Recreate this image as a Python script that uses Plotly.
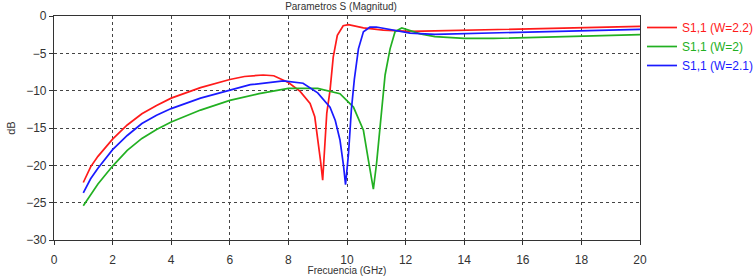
import plotly.graph_objects as go

# Frequency (GHz) / magnitude (dB)
red_f = [1.0, 1.25, 1.5, 2.0, 2.5, 3.0, 3.5, 4.0, 5.0, 6.0, 6.5, 7.14, 7.5, 8.0, 8.4, 8.74, 8.9, 9.0, 9.1, 9.17,
         9.25, 9.31, 9.42, 9.53, 9.67, 9.87, 10.05, 10.56, 11.24, 12.15, 13.0, 14.0, 15.0, 16.0, 17.0, 18.0, 19.0, 20.0]
red_db = [-22.3, -20.2, -18.8, -16.5, -14.6, -13.1, -12.0, -11.0, -9.6, -8.5, -8.1, -7.9, -8.0, -8.9, -10.1, -11.7, -13.5, -16.2, -19.5, -22.0,
          -17.0, -13.0, -10.0, -5.5, -2.6, -1.3, -1.15, -1.6, -1.9, -2.05, -2.0, -1.9, -1.8, -1.7, -1.6, -1.5, -1.45, -1.38]

green_f = [1.0, 1.25, 1.5, 1.75, 2.0, 2.5, 3.0, 3.5, 4.0, 5.0, 6.0, 7.0, 8.0, 9.0, 9.76, 10.22, 10.56, 10.73, 10.9,
           11.01, 11.13, 11.22, 11.3, 11.47, 11.64, 11.87, 12.09, 12.5, 13.0, 14.0, 15.0, 16.0, 17.0, 18.0, 19.0, 20.0]
green_db = [-25.4, -24.0, -22.5, -21.3, -20.1, -18.0, -16.4, -15.2, -14.2, -12.6, -11.3, -10.4, -9.7, -9.7, -10.4, -12.2, -15.3, -19.3, -23.2,
            -19.7, -14.8, -11.3, -7.9, -4.4, -2.1, -1.6, -1.9, -2.4, -2.75, -3.0, -3.0, -2.9, -2.8, -2.7, -2.6, -2.5]

blue_f = [1.0, 1.25, 1.5, 2.0, 2.5, 3.0, 3.5, 4.0, 5.0, 6.0, 6.7, 7.83, 8.5, 9.0, 9.42, 9.6, 9.76, 9.88, 9.95,
          10.05, 10.15, 10.25, 10.39, 10.56, 10.78, 11.0, 11.47, 12.15, 13.0, 14.0, 15.0, 16.0, 17.0, 18.0, 19.0, 20.0]
blue_db = [-23.7, -21.8, -20.4, -17.9, -16.0, -14.4, -13.3, -12.4, -11.0, -9.9, -9.2, -8.7, -9.0, -10.3, -12.2, -14.0, -16.6, -20.0, -22.6,
           -18.5, -12.5, -8.5, -4.4, -2.1, -1.5, -1.47, -1.8, -2.3, -2.45, -2.36, -2.25, -2.1, -2.05, -2.0, -1.9, -1.8]

series = [
    ("S1,1 (W=2.2)", red_f, red_db, "#ff1a1a"),
    ("S1,1 (W=2)", green_f, green_db, "#22b022"),
    ("S1,1 (W=2.1)", blue_f, blue_db, "#1a1aff"),
]

x_ticks = [0, 2, 4, 6, 8, 10, 12, 14, 16, 18, 20]
y_ticks = [0, -5, -10, -15, -20, -25, -30]

FONT = "Liberation Sans, Arial, sans-serif"

fig = go.Figure()
for name, f, db, col in series:
    fig.add_trace(go.Scatter(
        x=f, y=db, mode="lines",
        name=f'<span style="color:{col}">{name}</span>',
        line=dict(color=col, width=1.7),
    ))

axis_common = dict(
    showline=True, linecolor="#333333", linewidth=1.2, mirror=True,
    showgrid=True, gridcolor="#444444", griddash="dot", gridwidth=1,
    ticks="outside", ticklen=4, tickcolor="#333333",
    zeroline=False,
    tickfont=dict(family=FONT, size=12, color="#333333"),
)

fig.update_layout(
    width=754, height=276,
    margin=dict(l=54, r=114, t=16, b=36, autoexpand=False),
    paper_bgcolor="white", plot_bgcolor="white",
    title=dict(text="Parametros S (Magnitud)", x=341 / 754, xanchor="center",
               y=1 - 6 / 276, yanchor="middle",
               font=dict(family=FONT, size=10, color="#333333")),
    xaxis=dict(range=[0, 20], tickvals=x_ticks, ticklabelstandoff=4,
               title=dict(text="Frecuencia (GHz)", standoff=1,
                          font=dict(family=FONT, size=10, color="#333333")),
               **axis_common),
    yaxis=dict(range=[-30, 0], tickvals=y_ticks,
               title=dict(text="dB", standoff=8,
                          font=dict(family=FONT, size=11, color="#333333")),
               **axis_common),
    legend=dict(x=(642 - 54) / 586, xanchor="left", y=1 + 3 / 224, yanchor="top",
                bgcolor="rgba(0,0,0,0)",
                font=dict(family=FONT, size=12),
                tracegroupgap=0),
)

fig.write_html("out.html")
